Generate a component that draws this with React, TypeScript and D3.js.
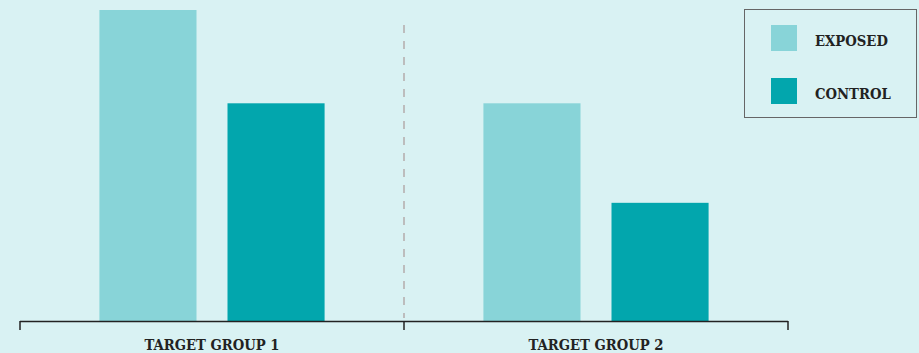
import React from "react";
import * as d3 from "d3";

const groups = ["TARGET GROUP 1", "TARGET GROUP 2"];
const series = ["EXPOSED", "CONTROL"];
const exposedValues = [100, 70];
const controlValues = [70, 38];
const colors = ["#88d4d8", "#02a6ad"];

const W = 919;
const H = 353;

export default function App() {
  const x0 = d3.scaleBand<string>().domain(groups).range([20, 788]).padding(0);
  const x1 = d3
    .scaleBand<string>()
    .domain(series)
    .range([0, x0.bandwidth()])
    .paddingInner(0.242)
    .paddingOuter(0.62);
  const y = d3.scaleLinear().domain([0, 100]).range([321, 10]);
  const valuesBySeries = [exposedValues, controlValues];
  const font = "'DejaVu Serif Condensed', 'DejaVu Serif', serif";

  return (
    <div style={{ position: "absolute", left: 0, top: 0 }}>
      <svg width={W} height={H} style={{ display: "block" }}>
        <rect x={0} y={0} width={W} height={H} fill="#d9f2f3" />
        {groups.map((g, gi) =>
          series.map((s, si) => {
            const v = valuesBySeries[si][gi];
            return (
              <rect
                key={g + s}
                x={(x0(g) as number) + (x1(s) as number)}
                y={y(v)}
                width={x1.bandwidth()}
                height={y(0) - y(v)}
                fill={colors[si]}
              />
            );
          })
        )}
        <line
          x1={x0(groups[1]) as number}
          x2={x0(groups[1]) as number}
          y1={25}
          y2={318}
          stroke="#bdbdbd"
          strokeWidth={2}
          strokeDasharray="8 8"
        />
        <line x1={20} x2={788} y1={321.5} y2={321.5} stroke="#222" strokeWidth={1.5} />
        {[20, x0(groups[1]) as number, 788].map((t, i) => (
          <line key={i} x1={t} x2={t} y1={321} y2={330} stroke="#222" strokeWidth={1.5} />
        ))}
        {groups.map((g) => (
          <text
            key={g}
            x={(x0(g) as number) + x0.bandwidth() / 2}
            y={350}
            textAnchor="middle"
            fontFamily={font}
            fontWeight="bold"
            fontSize={14.7}
            fill="#222"
          >
            {g}
          </text>
        ))}
        <rect x={744.5} y={9.5} width={172} height={108} fill="none" stroke="#666" strokeWidth={1} />
        {series.map((s, i) => (
          <g key={s} transform={`translate(771, ${25 + i * 53})`}>
            <rect x={0} y={0} width={26} height={26} fill={colors[i]} />
            <text x={44} y={21} fontFamily={font} fontWeight="bold" fontSize={14.7} fill="#222">
              {s}
            </text>
          </g>
        ))}
      </svg>
    </div>
  );
}
